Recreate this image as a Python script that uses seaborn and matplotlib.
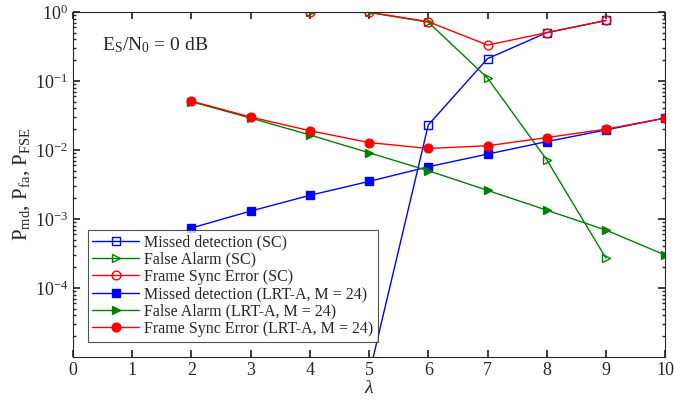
import pandas as pd
import matplotlib
matplotlib.use("Agg")
import matplotlib.pyplot as plt
import seaborn as sns

# DATA
lam_sc = [4, 5, 6, 7, 8, 9]
md_sc = [None, 5.5e-6, 0.023, 0.21, 0.50, 0.75]
fa_sc = [1.0, 0.98, 0.71, 0.11, 0.0072, 2.7e-4]
fse_sc = [1.0, 0.99, 0.72, 0.33, 0.50, 0.75]

lam_lrt = [2, 3, 4, 5, 6, 7, 8, 9, 10]
md_lrt = [7.4e-4, 1.3e-3, 2.2e-3, 3.5e-3, 5.7e-3, 8.7e-3, 0.0132, 0.0195, 0.029]
fa_lrt = [0.050, 0.029, 0.0165, 0.0091, 0.0050, 0.0026, 0.00134, 6.9e-4, 3.0e-4]
fse_lrt = [0.051, 0.030, 0.019, 0.0128, 0.0105, 0.0115, 0.0151, 0.020, 0.029]

sns.set_theme(style="ticks")
plt.rcParams['font.family'] = ['Liberation Serif', 'DejaVu Serif']
plt.rcParams['mathtext.fontset'] = 'custom'
plt.rcParams['mathtext.rm'] = 'Liberation Serif'
plt.rcParams['mathtext.it'] = 'Liberation Serif:italic'
plt.rcParams['mathtext.bf'] = 'Liberation Serif:bold'

fig = plt.figure(figsize=(6.74, 4.09), dpi=100)
ax = fig.add_axes([0.108, 0.127, 0.879, 0.844])

BLUE, GREEN, RED = '#0000ff', '#008000', '#ff0000'

series = [
    (lam_sc[1:], md_sc[1:], BLUE, 's', False, 'Missed detection (SC)'),
    (lam_sc, fa_sc, GREEN, '>', False, 'False Alarm (SC)'),
    (lam_sc, fse_sc, RED, 'o', False, 'Frame Sync Error (SC)'),
    (lam_lrt, md_lrt, BLUE, 's', True, 'Missed detection (LRT-A, M = 24)'),
    (lam_lrt, fa_lrt, GREEN, '>', True, 'False Alarm (LRT-A, M = 24)'),
    (lam_lrt, fse_lrt, RED, 'o', True, 'Frame Sync Error (LRT-A, M = 24)'),
]

msize = {'s': 5.2, '>': 6.0, 'o': 6.3}
for x, y, c, m, filled, lab in series:
    df = pd.DataFrame({'lam': x, 'p': y})
    sns.lineplot(data=df, x='lam', y='p', ax=ax, color=c, marker=m,
                 markersize=msize[m],
                 markerfacecolor=c if filled else 'none',
                 markeredgecolor=c, markeredgewidth=1.0,
                 linewidth=1.0, label=lab)

ax.set_yscale('log')
ax.set_xlim(0, 10)
ax.set_ylim(1e-5, 1)
ax.set_xticks(range(0, 11))
ax.set_yticks([1e-4, 1e-3, 1e-2, 1e-1, 1e0])

ax.tick_params(which='both', direction='in', top=True, right=True,
               labelsize=13, colors='#262626')
ax.tick_params(which='major', length=5)
ax.tick_params(which='minor', length=2.5)
ax.tick_params(axis='x', which='minor', top=False, bottom=False)
for s in ax.spines.values():
    s.set_color('#262626')
    s.set_linewidth(0.8)

ax.set_xlabel(r'$\lambda$', fontsize=14, labelpad=1)
ax.set_ylabel(r'P$_{\mathrm{md}}$, P$_{\mathrm{fa}}$, P$_{\mathrm{FSE}}$', fontsize=15, labelpad=2)

ax.text(0.05, 0.905, r'E$_{\mathrm{S}}$/N$_{0}$ = 0 dB', transform=ax.transAxes,
        fontsize=14, va='center', ha='left')

leg = ax.legend(loc='lower left', bbox_to_anchor=(0.025, 0.045), fontsize=11.5,
                frameon=True, fancybox=False, borderpad=0.3, labelspacing=0.08,
                handlelength=2.9, handletextpad=0.3, borderaxespad=0)
leg.get_frame().set_edgecolor('#262626')
leg.get_frame().set_linewidth(0.8)

plt.savefig("out.png", dpi=100)
plt.close()
